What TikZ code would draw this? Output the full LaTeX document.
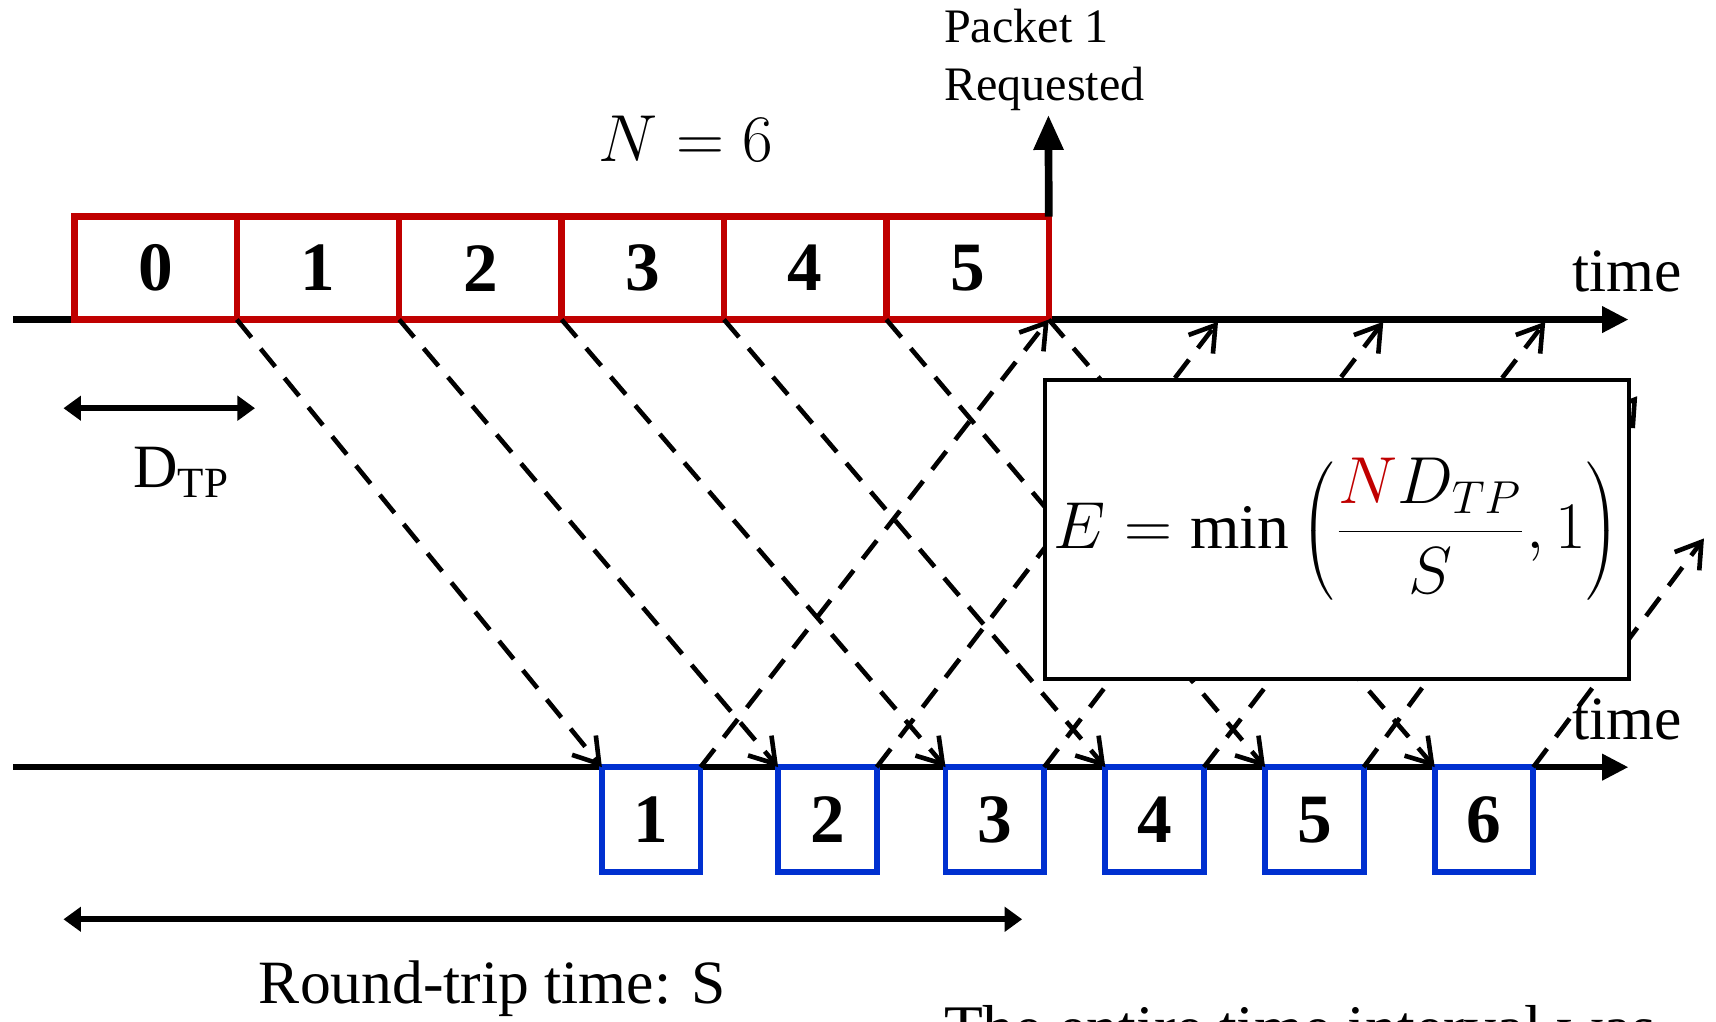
\documentclass[tikz,border=0pt]{standalone}
\usepackage{fontspec}
\setmainfont{Liberation Serif}
\usetikzlibrary{arrows.meta,positioning}
\definecolor{pktred}{RGB}{192,0,0}
\definecolor{pktblue}{RGB}{0,48,208}

\begin{document}
\begin{tikzpicture}[x=0.01cm, y=-0.01cm, font=\fontsize{16}{19}\selectfont,
	   axis/.style={line width=1.6pt, -{Triangle[length=2.4mm,width=2.3mm]}},
	   sent/.style={draw=pktred, line width=1.7pt, fill=white, minimum width=1.483cm, minimum height=0.94cm, inner sep=0pt, outer sep=0pt, font=\fontsize{18}{20}\selectfont\bfseries},
	   recv/.style={draw=pktblue, line width=1.5pt, fill=white, minimum width=0.9cm, minimum height=0.96cm, inner sep=0pt, outer sep=0pt, font=\fontsize{18}{20}\selectfont\bfseries},
	   flight/.style={line width=1.2pt, dash pattern=on 6pt off 3.8pt, -{Straight Barb[length=2.2mm,width=2.8mm]}},
	   span/.style={line width=1.5pt, {Triangle[length=1.6mm,width=2.2mm]}-{Triangle[length=1.6mm,width=2.2mm]}}]
	  \useasboundingbox (0,0) rectangle (1568,933);
	  \coordinate (t0) at (12,292); \coordinate (t1) at (1488,292);
	  \coordinate (s0) at (12,701); \coordinate (s1) at (1488,701);
	  \draw[axis] (t0) -- (t1);
	  \draw[axis] (s0) -- (s1);
	  \node[sent, anchor=south west] (p0) at (68,292) {0};
	  \node[sent, right=0pt of p0] (p1) {1};
	  \node[sent, right=0pt of p1] (p2) {2};
	  \node[sent, right=0pt of p2] (p3) {3};
	  \node[sent, right=0pt of p3] (p4) {4};
	  \node[sent, right=0pt of p4] (p5) {5};
	  \coordinate (req) at (958,105);
	  \draw[line width=2pt, -{Triangle[length=3.2mm,width=2.6mm]}] (p5.north east) -- (req);
	  \node[recv, anchor=north west] (b1) at (550,701) {1};
	  \node[recv, anchor=north west] (b2) at (711,701) {2};
	  \node[recv, anchor=north west] (b3) at (864,701) {3};
	  \node[recv, anchor=north west] (b4) at (1010,701) {4};
	  \node[recv, anchor=north west] (b5) at (1156,701) {5};
	  \node[recv, anchor=north west] (b6) at (1311,701) {6};
	  \draw[flight] (p0.south east) -- (b1.north west);
	  \draw[flight] (p1.south east) -- (b2.north west);
	  \draw[flight] (p2.south east) -- (b3.north west);
	  \draw[flight] (p3.south east) -- (b4.north west);
	  \draw[flight] (p4.south east) -- (b5.north west);
	  \draw[flight] (p5.south east) -- (b6.north west);
	  \coordinate (a2) at (1113,294); \coordinate (a3) at (1264,294);
	  \coordinate (a4) at (1412,294); \coordinate (a5) at (1496,362);
	  \coordinate (a6) at (1557,492);
	  \draw[flight] (b1.north east) -- (p5.south east);
	  \draw[flight] (b2.north east) -- (a2);
	  \draw[flight] (b3.north east) -- (a3);
	  \draw[flight] (b4.north east) -- (a4);
	  \draw[flight] (b5.north east) -- (a5);
	  \draw[flight] (b6.north east) -- (a6);
	  \node[draw, line width=1pt, fill=white, inner sep=0pt, minimum width=5.33cm, minimum height=2.73cm, font=\fontsize{16.5}{20}\selectfont] (eff) at (1221.5,483.5)
	    {$E=\min\left(\displaystyle\frac{\textcolor{pktred}{N}D_{TP}}{S},1\right)$};
	  \node[anchor=north west, align=left, inner sep=0pt, font=\fontsize{12.5}{15}\selectfont] (reqlbl) at (862,8) {Packet 1\\Requested};
	  \node (nlbl) at (627,127) {$N=6$};
	  \node (ttop) at (1487,248) {time};
	  \node (tbot) at (1487,657) {time};
	  \coordinate (d0) at (58,373); \coordinate (d1) at (233,373);
	  \draw[span] (d0) -- (d1);
	  \node (dtp) at (166,432) {D\textsubscript{TP}};
	  \coordinate (r0) at (58,840); \coordinate (r1) at (934,840);
	  \draw[span] (r0) -- (r1);
	  \node (rtt) at (450,903) {Round-trip time: S};
	  \node[anchor=base west, inner sep=0pt, font=\fontsize{16.5}{19}\selectfont] (note) at (862,959) {The entire time interval was};
	\end{tikzpicture}
\end{document}
